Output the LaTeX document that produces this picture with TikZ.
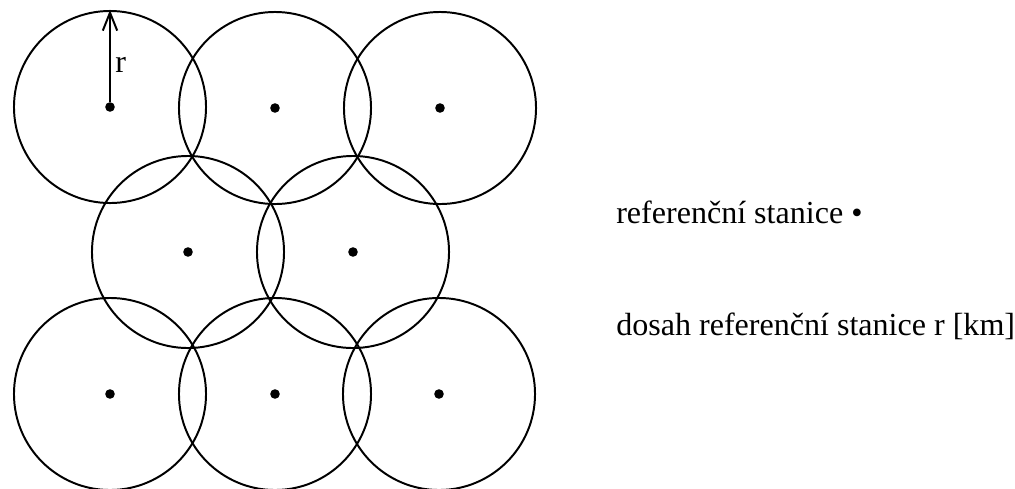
\documentclass[tikz,border=0pt]{standalone}
\usepackage{fontspec}
\setmainfont{Liberation Serif}
\usetikzlibrary{arrows.meta,positioning}

\begin{document}
\begin{tikzpicture}[x=0.025cm,y=-0.025cm]

\tikzset{station/.style={circle,fill=black,inner sep=0pt,minimum size=0.24cm},
rangecircle/.style={circle,draw=black,line width=1.4pt,inner sep=0pt,minimum size=4.8cm},
legend/.style={anchor=base west,inner sep=0pt,font=\fontsize{22.8}{27}\selectfont}}

\useasboundingbox (0,0) rectangle (1015,488);

% stations with their range
\foreach \n/\x/\y in {a1/110/107, a2/275/108, a3/440/108, b1/188/252, b2/353/252, c1/110/394, c2/275/394, c3/439/394} {
  \node[station] (\n) at (\x,\y) {};
  \node[rangecircle] (r\n) at (\n) {};
}

% radius arrow
\draw[-{Straight Barb[length=4.5mm,width=3.6mm]},line width=1.4pt] (a1) -- (ra1.north);
\node[legend] (rlabel) at (115,72) {r};

% legend
\node[legend] (leg1) at (616,223) {referenční stanice \textbullet};
\node[legend] (leg2) at (616,335) {dosah referenční stanice r [km]};

\end{tikzpicture}
\end{document}
